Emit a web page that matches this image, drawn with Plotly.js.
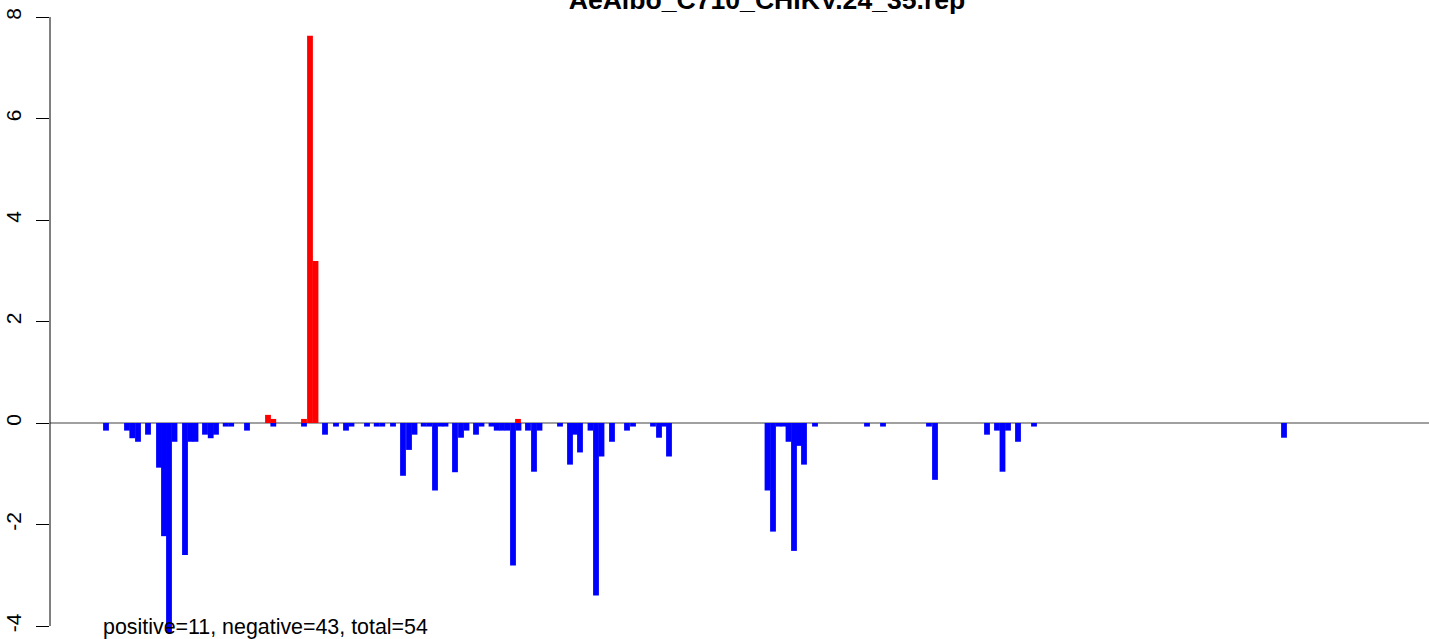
<!DOCTYPE html>
<html>
<head>
<meta charset="utf-8">
<script src="https://cdn.plot.ly/plotly-3.0.1.min.js"></script>
<style>html,body{margin:0;padding:0;overflow:hidden;background:#fff}</style>
</head>
<body>
<div id="chart" style="width:1429px;height:639px"></div>
<script>
// Positions (arbitrary position scale) and scores
const negPos = [3,24,29.3,35,45,56,61,66,71.5,82,87.5,92.5,102,107.7,113,122.7,128.2,144,170.3,201,222,233,243,248.5,264,273.7,279.3,290,300,306,311.5,320.7,326.2,332,337.5,342.5,352,358,363.5,373,378.5,388.5,393.7,399,404.3,410,415.5,425,431,436.5,457,467,472,477,487.5,493,498.5,509,524,530,550,556,561,566,664.5,670,675.5,680.5,685.5,691,696,701,712,764,780,826,832,884,894,899.5,905,915,931,1181];
const negVal = [-0.15,-0.15,-0.30,-0.37,-0.23,-0.88,-2.23,-4.14,-0.37,-2.60,-0.37,-0.37,-0.23,-0.30,-0.23,-0.07,-0.07,-0.15,-0.07,-0.07,-0.23,-0.07,-0.15,-0.07,-0.07,-0.07,-0.07,-0.07,-1.04,-0.53,-0.23,-0.07,-0.07,-1.33,-0.07,-0.07,-0.97,-0.29,-0.15,-0.23,-0.07,-0.07,-0.15,-0.15,-0.15,-2.81,-0.15,-0.15,-0.96,-0.15,-0.07,-0.82,-0.23,-0.58,-0.15,-3.40,-0.66,-0.37,-0.15,-0.07,-0.07,-0.29,-0.07,-0.66,-1.33,-2.14,-0.07,-0.07,-0.37,-2.52,-0.45,-0.82,-0.07,-0.07,-0.07,-0.07,-1.12,-0.23,-0.15,-0.96,-0.15,-0.37,-0.07,-0.29];
const posPos = [165,170.3,201,207,212.5,415];
const posVal = [0.16,0.08,0.08,7.63,3.19,0.08];
const yTickVals = [-4,-2,0,2,4,6,8];
const yTickText = ['-4','-2','0','2','4','6','8'];
const titleText = 'AeAlbo_C710_CHIKV.24_35.rep';
const summaryText = 'positive=11, negative=43, total=54';

const FONT = 'Liberation Sans, Arial, Helvetica, sans-serif';
const BW = 5.8;

const traces = [
  {type:'bar', x:negPos, y:negVal, width:negPos.map(()=>BW), marker:{color:'#0000ff', line:{width:0}}, hoverinfo:'x+y'},
  {type:'bar', x:posPos, y:posVal, width:posPos.map(()=>BW), marker:{color:'#ff0000', line:{width:0}}, hoverinfo:'x+y'}
];

const layout = {
  width:1429, height:639,
  margin:{l:50, r:0, t:0, b:3, pad:0},
  paper_bgcolor:'#ffffff', plot_bgcolor:'#ffffff',
  showlegend:false,
  barmode:'overlay',
  font:{family:FONT, color:'#000', size:21},
  title:{text:'<b>'+titleText+'</b>', font:{family:FONT, size:26.6, color:'#000'}, xref:'container', x:767/1429, xanchor:'center', yref:'container', y:1-9/639, yanchor:'bottom'},
  xaxis:{range:[-53,1326], showgrid:false, zeroline:false, showline:false, showticklabels:false, ticks:'', fixedrange:true},
  yaxis:{range:[-4.197,8.335], showgrid:false, zeroline:true, zerolinecolor:'#a0a0a0', zerolinewidth:2,
         showline:false, tickmode:'array', tickvals:yTickVals, ticktext:yTickText, ticks:'outside', ticklen:13, tickwidth:1, tickcolor:'#000',
         tickangle:-90, ticklabelstandoff:7, tickfont:{family:FONT, size:21, color:'#000'}, fixedrange:true},
  shapes:[{type:'line', xref:'paper', x0:0, x1:0, yref:'y', y0:-4, y1:8, line:{color:'#000', width:1}}],
  annotations:[{text:summaryText, xref:'x', x:-2.5, xanchor:'left', yref:'y', y:-4.02, yanchor:'middle', showarrow:false, font:{family:FONT, size:21.4, color:'#000'}}]
};

Plotly.newPlot('chart', traces, layout, {displayModeBar:false, staticPlot:true});
</script>
</body>
</html>
